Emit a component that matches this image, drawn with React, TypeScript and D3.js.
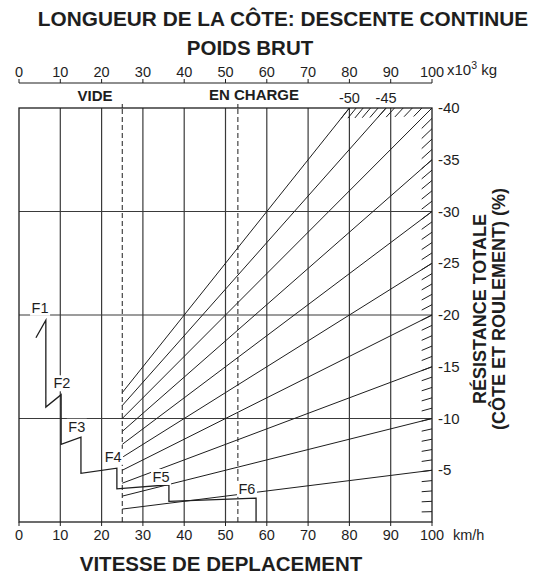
import * as d3 from "d3";

// vitesse (km/h) et poids brut (x10^3 kg) partagent la même échelle 0-100
const speedTicks = [0, 10, 20, 30, 40, 50, 60, 70, 80, 90, 100];
const weightTicks = [0, 10, 20, 30, 40, 50, 60, 70, 80, 90, 100];
const resistanceTicks = [5, 10, 15, 20, 25, 30, 35, 40];
const gridResistance = [10, 20, 30];
const gridSpeed = [10, 20, 30, 40, 50, 60, 70, 80, 90];
// lignes de résistance totale (%) tracées depuis le poids à vide
const gradeLines = [5, 10, 15, 20, 25, 30, 35, 40, 45, 50];
const topGradeLabels = [50, 45];
const emptyWeight = 25;
const loadedWeight = 53;

// courbe du ralentisseur, rapports F1 à F6: [vitesse, résistance]
const retarderCurve: [number, number][] = [
  [4.1, 17.8], [6.5, 19.5], [6.5, 11.1],
  [10.2, 12.3], [10.2, 7.5],
  [15.0, 8.2], [15.0, 4.7],
  [23.7, 5.2], [23.7, 3.2],
  [36.3, 3.6], [36.3, 2.0],
  [57.4, 2.3], [57.4, 0],
];
const gearNames = ["F1", "F2", "F3", "F4", "F5", "F6"];
const gearSpeed = [5.1, 10.4, 14.0, 22.8, 34.4, 55.2];
const gearRes = [20.7, 13.4, 9.2, 6.3, 4.35, 3.2];

const W = 543;
const H = 578;
const font = "'Liberation Sans', Arial, Helvetica, sans-serif";
const ink = "#1e1e1e";

export default function App() {
  const x = d3.scaleLinear().domain([0, 100]).range([19, 432]);
  const y = d3.scaleLinear().domain([0, 40]).range([522, 108]);
  const line = d3.line<[number, number]>().x((d) => x(d[0])).y((d) => y(d[1]));

  const gradeSegs = gradeLines.map((r) => {
    const end = Math.min(100, 4000 / r);
    return line([[emptyWeight, (r * emptyWeight) / 100], [end, (r * end) / 100]]);
  });

  // hachures le long du bord droit et du bord haut, parallèles aux droites
  const rightHatch = d3.range(1, 40).map((r) => line([[97.5, (r * 97.5) / 100], [100, r]]));
  const topHatch = d3.range(41, 51).map((r) => {
    const w0 = 4000 / r;
    return line([[w0 - 2, (r * (w0 - 2)) / 100], [w0, 40]]);
  });

  return (
    <svg width={W} height={H} style={{ position: "absolute", left: 0, top: 0, background: "#fff" }} fontFamily={font}>
      <text x={283} y={26} textAnchor="middle" fontSize={20.8} fontWeight="bold" fill={ink}>
        LONGUEUR DE LA CÔTE: DESCENTE CONTINUE
      </text>
      <text x={250} y={55} textAnchor="middle" fontSize={20.5} fontWeight="bold" fill={ink}>
        POIDS BRUT
      </text>

      {/* axe du poids brut */}
      <line x1={x(0)} x2={x(100)} y1={83} y2={83} stroke={ink} strokeWidth={1.2} />
      {weightTicks.map((t) => (
        <g key={"w" + t}>
          <line x1={x(t)} x2={x(t)} y1={79} y2={83} stroke={ink} />
          <text x={x(t)} y={77} textAnchor="middle" fontSize={14.5} fill={ink}>{t}</text>
        </g>
      ))}
      <text x={447} y={75} fontSize={15} fill={ink}>
        x10<tspan fontSize={10.5} dy={-6}>3</tspan><tspan dy={6}> kg</tspan>
      </text>
      <text x={95} y={101} textAnchor="middle" fontSize={15} fontWeight="bold" fill={ink}>VIDE</text>
      <text x={254} y={100} textAnchor="middle" fontSize={15} fontWeight="bold" fill={ink}>EN CHARGE</text>
      {topGradeLabels.map((r) => (
        <text key={"tg" + r} x={x(4000 / r)} y={103} textAnchor="middle" fontSize={14.5} fill={ink}>-{r}</text>
      ))}

      {/* grille */}
      {gridSpeed.map((t) => (
        <line key={"gs" + t} x1={x(t)} x2={x(t)} y1={y(40)} y2={y(0)} stroke="#3a3a3a" strokeWidth={1.2} />
      ))}
      {gridResistance.map((r) => (
        <line key={"gr" + r} x1={x(0)} x2={x(100)} y1={y(r)} y2={y(r)} stroke="#3a3a3a" strokeWidth={1.2} />
      ))}
      {[emptyWeight, loadedWeight].map((w) => (
        <g key={"d" + w}>
          <line x1={x(w)} x2={x(w)} y1={y(0)} y2={y(40)} stroke={ink} strokeDasharray="5,3" />
          <line x1={x(w)} x2={x(w)} y1={y(40) - 4} y2={y(40)} stroke={ink} />
        </g>
      ))}

      {/* droites de résistance */}
      {gradeSegs.map((d, i) => (
        <path key={"gl" + i} d={d ?? ""} fill="none" stroke={ink} strokeWidth={1} />
      ))}
      {rightHatch.map((d, i) => (
        <path key={"rh" + i} d={d ?? ""} fill="none" stroke={ink} strokeWidth={1} />
      ))}
      {topHatch.map((d, i) => (
        <path key={"th" + i} d={d ?? ""} fill="none" stroke={ink} strokeWidth={1} />
      ))}

      {/* cadre */}
      <rect x={x(0)} y={y(40)} width={x(100) - x(0)} height={y(0) - y(40)} fill="none" stroke={ink} strokeWidth={1.3} />

      {/* courbe du ralentisseur */}
      <path d={line(retarderCurve) ?? ""} fill="none" stroke={ink} strokeWidth={1.3} />
      {gearNames.map((g, i) => (
        <g key={g}>
          <rect x={x(gearSpeed[i]) - 10} y={y(gearRes[i]) - 8} width={20} height={16} fill="#fff" />
          <text x={x(gearSpeed[i])} y={y(gearRes[i]) + 5} textAnchor="middle" fontSize={14.5} fill={ink}>{g}</text>
        </g>
      ))}

      {/* axe de la vitesse */}
      {speedTicks.map((t) => (
        <g key={"s" + t}>
          <line x1={x(t)} x2={x(t)} y1={y(0)} y2={y(0) + 4} stroke={ink} />
          <text x={x(t)} y={540} textAnchor="middle" fontSize={14.5} fill={ink}>{t}</text>
        </g>
      ))}
      <text x={453} y={540} fontSize={14.5} fill={ink}>km/h</text>
      <text x={221} y={571} textAnchor="middle" fontSize={20.5} fontWeight="bold" fill={ink}>
        VITESSE DE DEPLACEMENT
      </text>

      {/* axe de la résistance */}
      {resistanceTicks.map((r) => (
        <text key={"r" + r} x={438} y={y(r) + 5} fontSize={15} fill={ink}>-{r}</text>
      ))}
      <g transform="translate(486,309) rotate(-90)">
        <text textAnchor="middle" fontSize={18} fontWeight="bold" fill={ink}>RÉSISTANCE TOTALE</text>
      </g>
      <g transform="translate(505,309) rotate(-90)">
        <text textAnchor="middle" fontSize={18} fontWeight="bold" fill={ink}>(CÔTE ET ROULEMENT) (%)</text>
      </g>
    </svg>
  );
}
